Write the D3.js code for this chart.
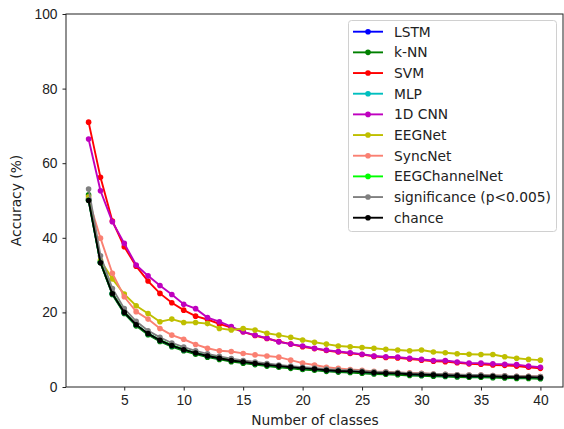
<!DOCTYPE html>
<html>
<head>
<meta charset="utf-8">
<script src="https://cdn.jsdelivr.net/npm/d3@7"></script>
<style>
  body { margin: 0; background: #fff; }
  svg { font-family: "DejaVu Sans", sans-serif; }
  .axis path, .axis line { stroke: #222; }
  .axis text { font-size: 13.8px; fill: #222; }
</style>
</head>
<body>
<div id="chart"></div>
<script>
// number of classes
var classes = [2, 3, 4, 5, 6, 7, 8, 9, 10, 11, 12, 13, 14, 15, 16, 17, 18, 19, 20,
  21, 22, 23, 24, 25, 26, 27, 28, 29, 30, 31, 32, 33, 34, 35, 36, 37, 38, 39, 40];

var lstm = [50.4, 33.5, 25.1, 20.0, 16.6, 14.3, 12.5, 11.1, 10.0, 9.1, 8.4, 7.7, 7.1, 6.7, 6.2, 5.9, 5.6, 5.3, 5.0, 4.8,
  4.6, 4.3, 4.2, 4.0, 3.9, 3.7, 3.6, 3.5, 3.3, 3.2, 3.1, 3.0, 3.0, 2.9, 2.8, 2.7, 2.7, 2.6, 2.5];
var knn = [51.5, 33.4, 24.8, 19.7, 16.4, 14.0, 12.2, 10.8, 9.7, 8.8, 8.0, 7.4, 6.8, 6.4, 6.0, 5.6, 5.3, 5.0, 4.7, 4.5,
  4.2, 4.0, 3.9, 3.7, 3.5, 3.4, 3.3, 3.1, 3.0, 2.9, 2.8, 2.7, 2.6, 2.6, 2.5, 2.4, 2.3, 2.3, 2.2];
var svm = [71.0, 56.2, 44.5, 37.6, 32.4, 28.4, 25.1, 22.6, 20.6, 19.0, 18.1, 16.9, 15.9, 14.8, 13.8, 13.0, 12.2, 11.5, 10.8,
  10.3, 9.8, 9.4, 9.0, 8.7, 8.2, 7.9, 7.8, 7.5, 7.2, 6.9, 6.8, 6.5, 6.2, 6.1, 5.9, 5.8, 5.6, 5.3, 5.0];
var mlp = [50.2, 33.4, 25.0, 20.0, 16.7, 14.3, 12.5, 11.1, 10.0, 9.1, 8.3, 7.7, 7.2, 6.7, 6.3, 5.9, 5.6, 5.3, 5.0, 4.8,
  4.5, 4.3, 4.2, 4.0, 3.8, 3.7, 3.6, 3.4, 3.3, 3.2, 3.1, 3.0, 2.9, 2.9, 2.8, 2.7, 2.6, 2.6, 2.5];
var cnn1d = [66.5, 52.6, 44.3, 38.5, 32.7, 29.8, 27.2, 24.8, 22.2, 21.0, 18.6, 17.5, 16.2, 14.8, 13.9, 13.1, 12.1, 11.5, 11.0,
  10.4, 9.9, 9.5, 9.2, 8.8, 8.3, 8.1, 8.0, 7.7, 7.4, 7.1, 7.1, 6.7, 6.4, 6.4, 6.2, 6.1, 6.0, 5.6, 5.3];
var eegnet = [51.0, 34.0, 29.0, 24.9, 21.8, 19.7, 17.5, 18.2, 17.3, 17.3, 17.0, 15.7, 15.3, 15.7, 15.3, 14.4, 13.9, 13.3, 12.6,
  12.0, 11.5, 11.0, 10.8, 10.6, 10.4, 10.1, 9.9, 9.7, 9.9, 9.4, 9.2, 8.9, 8.8, 8.7, 8.7, 8.1, 7.7, 7.4, 7.2];
var syncnet = [50.3, 39.9, 30.5, 24.2, 20.2, 18.2, 15.7, 13.9, 12.8, 11.4, 10.4, 9.7, 9.5, 9.0, 8.6, 8.3, 8.0, 7.2, 6.4,
  5.9, 5.3, 5.0, 4.7, 4.5, 4.2, 4.1, 3.9, 3.8, 3.7, 3.5, 3.4, 3.3, 3.2, 3.2, 3.1, 3.0, 2.9, 2.9, 2.8];
var eegchannelnet = [50.1, 33.4, 25.1, 20.1, 16.7, 14.3, 12.6, 11.2, 10.1, 9.1, 8.4, 7.8, 7.2, 6.7, 6.3, 5.9, 5.6, 5.3, 5.0, 4.8,
  4.6, 4.4, 4.2, 4.0, 3.9, 3.7, 3.6, 3.5, 3.4, 3.3, 3.2, 3.1, 3.0, 2.9, 2.8, 2.7, 2.7, 2.6, 2.5];
var significance = [53.1, 35.2, 26.4, 21.0, 17.6, 15.1, 13.3, 11.8, 10.7, 9.7, 8.9, 8.2, 7.6, 7.1, 6.7, 6.3, 5.9, 5.6, 5.3,
  5.1, 4.8, 4.6, 4.5, 4.3, 4.1, 4.0, 3.9, 3.7, 3.6, 3.5, 3.4, 3.3, 3.2, 3.2, 3.1, 3.0, 2.9, 2.9, 2.8];
var chance = [50.0, 33.3, 25.0, 20.0, 16.7, 14.3, 12.5, 11.1, 10.0, 9.1, 8.3, 7.7, 7.1, 6.7, 6.3, 5.9, 5.6, 5.3, 5.0,
  4.8, 4.5, 4.3, 4.2, 4.0, 3.8, 3.7, 3.6, 3.4, 3.3, 3.2, 3.1, 3.0, 2.9, 2.9, 2.8, 2.7, 2.6, 2.6, 2.5];

var seriesNames = ["LSTM", "k-NN", "SVM", "MLP", "1D CNN", "EEGNet", "SyncNet", "EEGChannelNet", "significance (p<0.005)", "chance"];
var seriesValues = [lstm, knn, svm, mlp, cnn1d, eegnet, syncnet, eegchannelnet, significance, chance];
var seriesColors = ["#0000ff", "#008000", "#ff0000", "#00bfbf", "#bf00bf", "#bfbf00", "#fa8072", "#00ff00", "#808080", "#000000"];

var xTicks = [5, 10, 15, 20, 25, 30, 35, 40];
var yTicks = [0, 20, 40, 60, 80, 100];

var width = 564, height = 429;
var plot = { left: 66, right: 563, top: 14, bottom: 387 };

var svg = d3.select("#chart").append("svg")
    .attr("width", width)
    .attr("height", height);

var x = d3.scaleLinear()
    .domain([0.1, 41.9])
    .range([plot.left, plot.right]);

var y = d3.scaleLinear()
    .domain([0, 100])
    .range([plot.bottom, plot.top]);

var line = d3.line()
    .x(function (d) { return x(d.x); })
    .y(function (d) { return y(d.y); });

// series
for (var i = 0; i < seriesNames.length; i++) {
    var set = classes.map(function (c, j) { return { x: c, y: seriesValues[i][j] }; });
    var g = svg.append("g");
    g.append("path")
        .datum(set)
        .attr("fill", "none")
        .attr("stroke", seriesColors[i])
        .attr("stroke-width", 1.9)
        .attr("d", line);
    g.selectAll("circle")
        .data(set)
        .enter().append("circle")
        .attr("cx", function (d) { return x(d.x); })
        .attr("cy", function (d) { return y(d.y); })
        .attr("r", 2.8)
        .attr("fill", seriesColors[i]);
}

// axes
svg.append("g")
    .attr("class", "axis")
    .attr("transform", "translate(0," + plot.bottom + ")")
    .call(d3.axisBottom(x).tickValues(xTicks).tickSize(3.5).tickPadding(5))
    .call(function (g) { g.select(".domain").remove(); });

svg.append("g")
    .attr("class", "axis")
    .attr("transform", "translate(" + plot.left + ",0)")
    .call(d3.axisLeft(y).tickValues(yTicks).tickSize(3.5).tickPadding(5))
    .call(function (g) { g.select(".domain").remove(); });

// frame
svg.append("rect")
    .attr("x", plot.left)
    .attr("y", plot.top)
    .attr("width", plot.right - plot.left)
    .attr("height", plot.bottom - plot.top)
    .attr("fill", "none")
    .attr("stroke", "#222")
    .attr("stroke-width", 1);

// axis titles
svg.append("text")
    .attr("x", 315)
    .attr("y", 425)
    .attr("text-anchor", "middle")
    .style("font-size", "13.8px")
    .attr("fill", "#222")
    .text("Number of classes");

svg.append("text")
    .attr("transform", "translate(21," + ((plot.top + plot.bottom) / 2) + ") rotate(-90)")
    .attr("text-anchor", "middle")
    .style("font-size", "13.8px")
    .attr("fill", "#222")
    .text("Accuracy (%)");

// legend
var legend = svg.append("g");
legend.append("rect")
    .attr("x", 348.5)
    .attr("y", 20.5)
    .attr("width", 208)
    .attr("height", 211)
    .attr("rx", 3)
    .attr("fill", "#fff")
    .attr("fill-opacity", 0.8)
    .attr("stroke", "#d0d0d0");

for (var k = 0; k < seriesNames.length; k++) {
    var ly = 31.7 + k * 20.67;
    legend.append("line")
        .attr("x1", 353).attr("x2", 383)
        .attr("y1", ly).attr("y2", ly)
        .attr("stroke", seriesColors[k])
        .attr("stroke-width", 1.9);
    legend.append("circle")
        .attr("cx", 368).attr("cy", ly)
        .attr("r", 2.8)
        .attr("fill", seriesColors[k]);
    legend.append("text")
        .attr("x", 394)
        .attr("y", ly)
        .attr("dy", "0.36em")
        .style("font-size", "13.8px")
        .attr("fill", "#222")
        .text(seriesNames[k]);
}
</script>
</body>
</html>
